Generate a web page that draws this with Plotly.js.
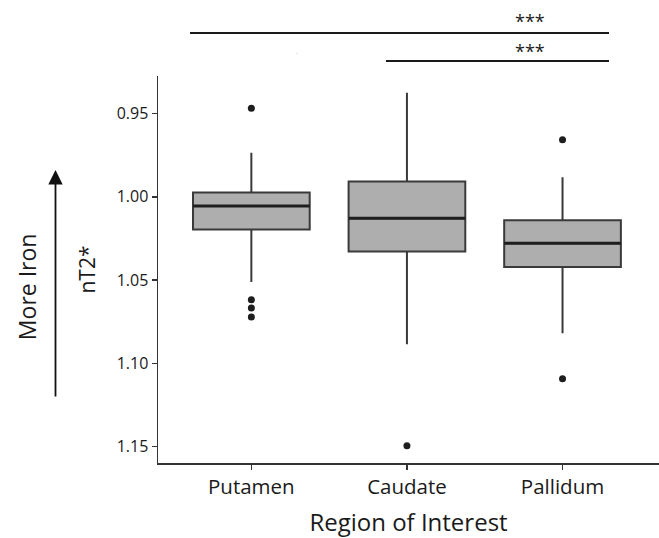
<!DOCTYPE html>
<html>
<head>
<meta charset="utf-8">
<script src="https://cdn.plot.ly/plotly-3.0.1.min.js"></script>
<style>html,body{margin:0;padding:0;background:#fff;}#chart{width:659px;height:538px;}</style>
</head>
<body>
<div id="chart"></div>
<script>
// Data (y axis is nT2*, drawn reversed)
const regions = ["Putamen", "Caudate", "Pallidum"];
const upperFence = [0.9735, 0.9375, 0.9883];
const q1 = [0.9975, 0.9909, 1.0141];
const medians = [1.0055, 1.0129, 1.0279];
const q3 = [1.0197, 1.0329, 1.0421];
const lowerFence = [1.0511, 1.0885, 1.0819];
const outlierRegion = ["Putamen", "Putamen", "Putamen", "Putamen", "Caudate", "Pallidum", "Pallidum"];
const outlierValues = [0.9469, 1.0618, 1.0667, 1.0721, 1.1494, 0.9657, 1.1092];
const yTickVals = [0.95, 1.00, 1.05, 1.10, 1.15];
const yTickText = ["0.95", "1.00", "1.05", "1.10", "1.15"];
const sigLabels = ["***", "***"];

const FONT = "Open Sans, Lato, sans-serif";

const traces = [
  {
    type: "box",
    x: regions,
    q1: q1,
    median: medians,
    q3: q3,
    lowerfence: upperFence,
    upperfence: lowerFence,
    boxpoints: false,
    width: 0.75,
    fillcolor: "#aeaeae",
    line: {color: "#3a3a3a", width: 2},
    whiskerwidth: 0,
    hoverinfo: "skip",
    showlegend: false
  },
  {
    // thicker median bar, drawn from the same median values
    type: "box",
    x: regions,
    q1: medians,
    median: medians,
    q3: medians,
    lowerfence: medians,
    upperfence: medians,
    boxpoints: false,
    width: 0.75,
    fillcolor: "rgba(0,0,0,0)",
    line: {color: "#1e1e1e", width: 3},
    whiskerwidth: 0,
    hoverinfo: "skip",
    showlegend: false
  },
  {
    type: "scatter",
    mode: "markers",
    x: outlierRegion,
    y: outlierValues,
    marker: {color: "#1e1e1e", size: 7},
    hoverinfo: "skip",
    showlegend: false
  }
];

const layout = {
  width: 659,
  height: 538,
  margin: {l: 158, r: 0, t: 76, b: 75},
  paper_bgcolor: "#ffffff",
  plot_bgcolor: "#ffffff",
  font: {family: FONT, color: "#1a1a1a"},
  showlegend: false,
  boxmode: "overlay",
  xaxis: {
    type: "category",
    range: [-0.6, 2.62],
    showgrid: false,
    zeroline: false,
    showline: true,
    linecolor: "#333333",
    linewidth: 1.5,
    ticks: "outside",
    ticklen: 5,
    tickwidth: 1.5,
    tickcolor: "#333333",
    tickfont: {size: 20.5, family: FONT, color: "#1a1a1a"},
    title: {text: "Region of Interest", font: {size: 24, family: FONT, color: "#1a1a1a"}, standoff: 18}
  },
  yaxis: {
    range: [1.1598, 0.9275],
    tickvals: yTickVals,
    ticktext: yTickText,
    showgrid: false,
    zeroline: false,
    showline: true,
    linecolor: "#333333",
    linewidth: 1.5,
    ticks: "outside",
    ticklen: 5,
    tickwidth: 1.5,
    tickcolor: "#333333",
    tickfont: {size: 16, family: FONT, color: "#1a1a1a"},
    title: {text: "nT2*", font: {size: 21, family: FONT, color: "#1a1a1a"}, standoff: 15}
  },
  shapes: [
    {type: "line", xref: "paper", yref: "paper", x0: 0.0639, x1: 0.9002, y0: 1.111, y1: 1.111, line: {color: "#1a1a1a", width: 2}},
    {type: "line", xref: "paper", yref: "paper", x0: 0.455, x1: 0.9002, y0: 1.0388, y1: 1.0388, line: {color: "#1a1a1a", width: 2}}
  ],
  annotations: [
    {xref: "paper", yref: "paper", x: 0.7425, y: 1.143, text: sigLabels[0], showarrow: false, font: {size: 18, family: FONT, color: "#1a1a1a"}, xanchor: "center", yanchor: "middle"},
    {xref: "paper", yref: "paper", x: 0.7425, y: 1.0646, text: sigLabels[1], showarrow: false, font: {size: 18, family: FONT, color: "#1a1a1a"}, xanchor: "center", yanchor: "middle"},
    {xref: "paper", yref: "paper", x: 0.2774, y: 1.062, text: ".", showarrow: false, font: {size: 6, family: FONT, color: "#777777"}, xanchor: "center", yanchor: "middle"},
    {xref: "paper", yref: "paper", x: -0.2046, y: 0.757, text: "", showarrow: true, arrowhead: 2, arrowsize: 1.6, arrowwidth: 1.8, arrowcolor: "#111111", axref: "pixel", ayref: "pixel", ax: 0, ay: 228},
    {xref: "paper", yref: "paper", x: -0.2615, y: 0.457, text: "More Iron", textangle: -90, showarrow: false, font: {size: 23, family: FONT, color: "#1a1a1a"}, xanchor: "center", yanchor: "middle"}
  ]
};

Plotly.newPlot("chart", traces, layout, {displayModeBar: false, staticPlot: true});
</script>
</body>
</html>
